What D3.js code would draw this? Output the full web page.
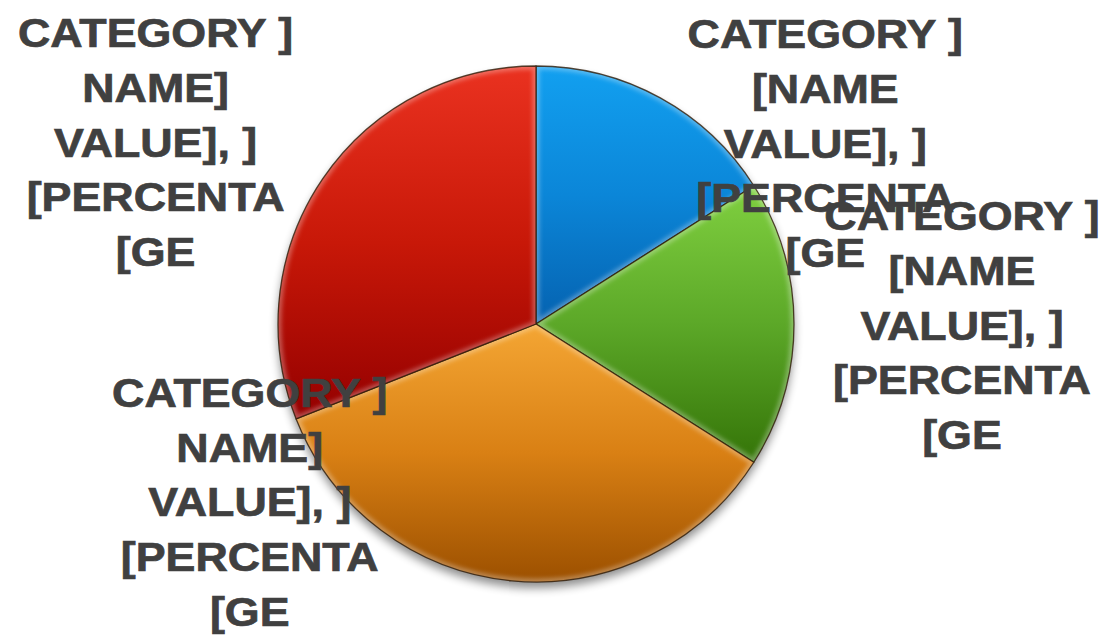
<!DOCTYPE html>
<html>
<head>
<meta charset="utf-8">
<script src="https://cdn.jsdelivr.net/npm/d3@7"></script>
<style>
  html, body { margin: 0; padding: 0; background: #fff; }
  svg { display: block; }
</style>
</head>
<body>
<svg id="chart"></svg>
<script>
// Data
var categories = ['Blue', 'Green', 'Orange', 'Red']
var values = [16, 18, 35, 31]
var labelLines = [
	['CATEGORY ]', '[NAME', 'VALUE], ]', '[PERCENTA', '[GE'],
	['CATEGORY ]', '[NAME', 'VALUE], ]', '[PERCENTA', '[GE'],
	['CATEGORY ]', 'NAME]', 'VALUE], ]', '[PERCENTA', '[GE'],
	['CATEGORY ]', 'NAME]', 'VALUE], ]', '[PERCENTA', '[GE'],
]

// Config
var width = 1107,
	height = 637
var cx = 536,
	cy = 324,
	radius = 258
var fills = [
	{ top: '#12a0f0', mid: '#0b86d8', bottom: '#0562b0' },
	{ top: '#80d040', mid: '#5ca828', bottom: '#347408' },
	{ top: '#f4a634', mid: '#d98014', bottom: '#9c5000' },
	{ top: '#ea3220', mid: '#c81808', bottom: '#940000' },
]
// where each label block sits relative to its slice's outer mid point (center x, first baseline)
var labelNudge = [
	[165, -50],
	[168, -94],
	[-262, -174],
	[-167, -132],
]

var svg = d3.select('#chart').attr('width', width).attr('height', height)
var defs = svg.append('defs')

fills.forEach(function (f, i) {
	var g = defs.append('linearGradient').attr('id', 'grad' + i).attr('x1', 0).attr('y1', 0).attr('x2', 0).attr('y2', 1)
	g.append('stop').attr('offset', '0%').attr('stop-color', f.top)
	g.append('stop').attr('offset', '50%').attr('stop-color', f.mid)
	g.append('stop').attr('offset', '100%').attr('stop-color', f.bottom)
})

var shadow = defs.append('filter').attr('id', 'shadow').attr('x', '-20%').attr('y', '-20%').attr('width', '140%').attr('height', '140%')
shadow.append('feGaussianBlur').attr('in', 'SourceAlpha').attr('stdDeviation', 5)
shadow.append('feOffset').attr('dx', 0).attr('dy', 6).attr('result', 'off')
shadow.append('feComponentTransfer').append('feFuncA').attr('type', 'linear').attr('slope', 0.45)

var soft = defs.append('filter').attr('id', 'soft')
soft.append('feGaussianBlur').attr('stdDeviation', 2)

var pie = d3
	.pie()
	.sort(null)
	.value(function (d) {
		return d
	})
var arcs = pie(values)
var arc = d3.arc().innerRadius(0).outerRadius(radius)

var plot = svg.append('g').attr('transform', 'translate(' + cx + ',' + cy + ')')

// shadow under the pie
plot.append('circle').attr('r', radius).attr('fill', '#000').attr('filter', 'url(#shadow)')

arcs.forEach(function (a, i) {
	defs.append('clipPath').attr('id', 'clip' + i).append('path').attr('d', arc(a))
})

var slices = plot.selectAll('.slice').data(arcs).join('g').attr('class', 'slice')

slices
	.append('path')
	.attr('d', arc)
	.attr('fill', function (d, i) {
		return 'url(#grad' + i + ')'
	})

// glossy bevel along the edges
slices
	.append('path')
	.attr('d', arc)
	.attr('fill', 'none')
	.attr('stroke', '#fff')
	.attr('stroke-opacity', 0.3)
	.attr('stroke-width', 7)
	.attr('filter', 'url(#soft)')
	.attr('clip-path', function (d, i) {
		return 'url(#clip' + i + ')'
	})

slices
	.append('path')
	.attr('d', arc)
	.attr('fill', 'none')
	.attr('stroke', '#2e1a06')
	.attr('stroke-opacity', 0.8)
	.attr('stroke-width', 1.3)
	.attr('stroke-linejoin', 'round')

// labels
var labelArc = d3.arc().innerRadius(radius).outerRadius(radius)
var labels = svg
	.selectAll('.label')
	.data(arcs)
	.join('g')
	.attr('class', 'label')
	.attr('transform', function (d, i) {
		var p = labelArc.centroid(d)
		var x = cx + p[0] + labelNudge[i][0]
		var y = cy + p[1] + labelNudge[i][1]
		return 'translate(' + x + ',' + y + ') scale(1.12,1)'
	})

labels
	.append('text')
	.attr('text-anchor', 'middle')
	.attr('font-family', '"Liberation Sans", Arial, sans-serif')
	.attr('font-weight', 'bold')
	.attr('font-size', '40px')
	.attr('fill', '#404040')
	.attr('stroke', '#404040')
	.attr('stroke-width', 0.7)
	.selectAll('tspan')
	.data(function (d, i) {
		return labelLines[i]
	})
	.join('tspan')
	.attr('x', 0)
	.attr('y', function (d, j) {
		return j * 54.8
	})
	.text(function (d) {
		return d
	})
</script>
</body>
</html>
